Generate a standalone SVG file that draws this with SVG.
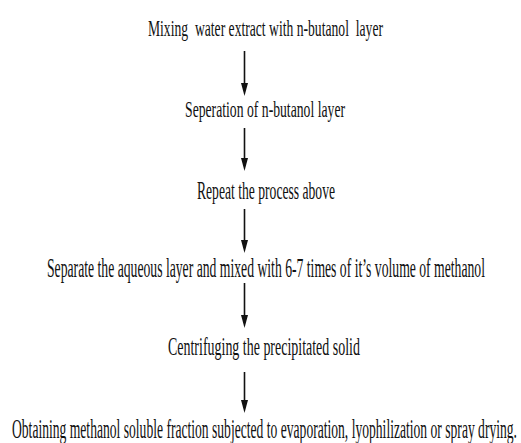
<svg xmlns="http://www.w3.org/2000/svg" width="521" height="443" viewBox="0 0 521 443">
<style>
text{font-family:"Liberation Serif","Times New Roman",serif;fill:#111;white-space:pre}
.n{transform:scale(0.57,1)}
.w{transform:scale(0.44,1)}
.c line{stroke:#111;stroke-width:1.6}
.c path{fill:#111}
</style>
<rect width="521" height="443" fill="#fff"/>
<g id="n1" class="n"><text x="259.6" y="36" font-size="23" textLength="412.3" lengthAdjust="spacingAndGlyphs">Mixing  water extract with n-butanol  layer</text></g>
<g id="n2" class="n"><text x="324.6" y="117" font-size="24" textLength="280.7" lengthAdjust="spacingAndGlyphs">Seperation of n-butanol layer</text></g>
<g id="n3" class="n"><text x="345.6" y="199" font-size="25" textLength="242.1" lengthAdjust="spacingAndGlyphs">Repeat the process above</text></g>
<g id="n4" class="w"><text x="106.8" y="277" font-size="28" textLength="995.5" lengthAdjust="spacingAndGlyphs">Separate the aqueous layer and mixed with 6-7 times of it’s volume of methanol</text></g>
<g id="n5" class="n"><text x="294.7" y="355" font-size="25" textLength="336.8" lengthAdjust="spacingAndGlyphs">Centrifuging the precipitated solid</text></g>
<g id="n6" class="w"><text x="27.3" y="438" font-size="28" textLength="1147.7" lengthAdjust="spacingAndGlyphs">Obtaining methanol soluble fraction subjected to evaporation, lyophilization or spray drying.</text></g>
<g class="c" id="connectors">
<line x1="244.5" y1="51" x2="244.5" y2="84"/><path d="M241,83 L248,83 L244.5,96 Z"/>
<line x1="244.5" y1="128" x2="244.5" y2="159"/><path d="M241,158 L248,158 L244.5,171 Z"/>
<line x1="244.5" y1="209" x2="244.5" y2="241"/><path d="M241,240 L248,240 L244.5,253 Z"/>
<line x1="244.5" y1="283" x2="244.5" y2="316"/><path d="M241,315 L248,315 L244.5,328 Z"/>
<line x1="244.5" y1="372" x2="244.5" y2="401"/><path d="M241,400 L248,400 L244.5,413 Z"/>
</g>
</svg>
